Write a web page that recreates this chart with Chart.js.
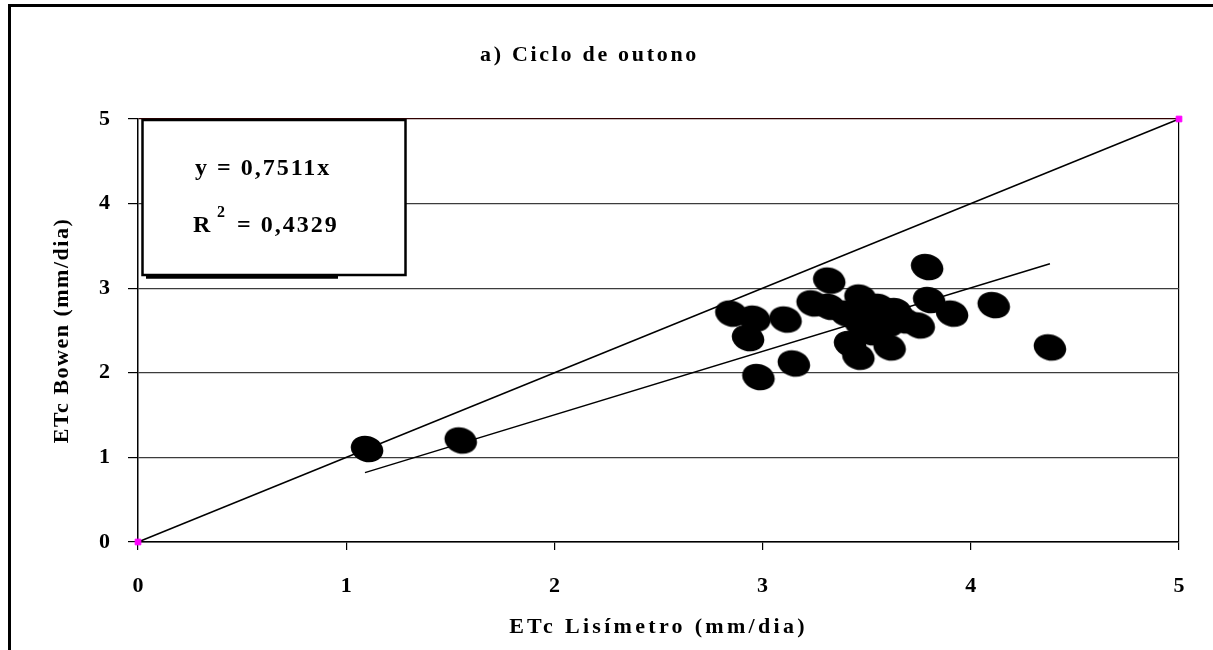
<!DOCTYPE html>
<html>
<head>
<meta charset="utf-8">
<script src="https://cdn.jsdelivr.net/npm/chart.js@4.4.1/dist/chart.umd.min.js"></script>
<style>
  html, body { margin: 0; padding: 0; background: #fff; }
  #wrap { width: 1213px; height: 650px; position: relative; }
</style>
</head>
<body>
<div id="wrap"><canvas id="chart"></canvas></div>
<script>
// data
const lisimetro = [1.10, 1.55, 2.85, 2.96, 2.93, 2.98, 3.11, 3.15, 3.24, 3.32, 3.32, 3.40, 3.47, 3.42, 3.46,
  3.47, 3.53, 3.56, 3.60, 3.52, 3.61, 3.64, 3.68, 3.75, 3.79, 3.80, 3.91, 4.11, 4.38];
const bowen = [1.10, 1.20, 2.70, 2.64, 2.41, 1.95, 2.63, 2.11, 2.82, 3.09, 2.78, 2.70, 2.89, 2.34, 2.19,
  2.58, 2.66, 2.78, 2.58, 2.48, 2.30, 2.73, 2.62, 2.56, 3.25, 2.86, 2.70, 2.80, 2.30];

// 1:1 line and fitted line (y = 0,7511x)
const oneToOneX = [0, 5];
const oneToOneY = [0, 5];
const trendX = [1.09, 4.38];
const trendY = [0.82, 3.29];

const ticks = [0, 1, 2, 3, 4, 5];
const eqText = 'y = 0,7511x';
const r2Text = '= 0,4329';

const serif = 'Liberation Serif';
let chartRef = null;

// spread letters like the original (each text gets its own spacing)
function spacing(px) {
  if (chartRef) chartRef.ctx.letterSpacing = px;
}

// ellipse marker like the original spreadsheet
function makeEllipse() {
  const c = document.createElement('canvas');
  c.width = 38; c.height = 34;
  const g = c.getContext('2d');
  g.fillStyle = '#000';
  g.beginPath();
  g.ellipse(19, 17, 16.5, 13, 0.28, 0, Math.PI * 2);
  g.fill();
  return c;
}
const blob = makeEllipse();

const toPts = (xs, ys) => xs.map((x, i) => ({ x: x, y: ys[i] }));

// frame and equation box
const decor = {
  id: 'decor',
  afterDraw(chart) {
    const ctx = chart.ctx;
    const a = chart.chartArea;
    ctx.save();
    ctx.letterSpacing = '0px';
    ctx.strokeStyle = '#000';
    // outer frame (top and left)
    ctx.lineWidth = 3;
    ctx.beginPath();
    ctx.moveTo(9.5, 650);
    ctx.lineTo(9.5, 5.5);
    ctx.lineTo(1213, 5.5);
    ctx.stroke();

    // equation box
    const bx = a.left + 4.5, by = a.top + 1;
    ctx.fillStyle = '#fff';
    ctx.fillRect(bx, by, 263, 155);
    ctx.lineWidth = 2.5;
    ctx.strokeRect(bx, by, 263, 155);
    ctx.lineWidth = 3.5;
    ctx.beginPath();
    ctx.moveTo(a.left + 8, a.top + 158);
    ctx.lineTo(a.left + 200, a.top + 158);
    ctx.stroke();

    ctx.fillStyle = '#000';
    ctx.textBaseline = 'alphabetic';
    ctx.textAlign = 'left';
    ctx.font = 'bold 24px "' + serif + '"';
    ctx.letterSpacing = '2px';
    ctx.fillText(eqText, a.left + 57, a.top + 56);
    ctx.fillText('R', a.left + 55, a.top + 113);
    ctx.fillText(r2Text, a.left + 99, a.top + 113);
    ctx.font = 'bold 16px "' + serif + '"';
    ctx.fillText('2', a.left + 79, a.top + 98);
    ctx.restore();
  }
};

chartRef = new Chart(document.getElementById('chart'), {
  type: 'scatter',
  data: {
    datasets: [
      {
        label: 'ETc',
        data: toPts(lisimetro, bowen),
        pointStyle: blob,
        pointRadius: 16,
        order: 3
      },
      {
        label: '1:1',
        data: toPts(oneToOneX, oneToOneY),
        showLine: true,
        clip: 8,
        borderColor: '#000',
        borderWidth: 1.5,
        pointStyle: 'rect',
        pointRadius: 4,
        pointBackgroundColor: '#ff00ff',
        pointBorderColor: '#ff00ff',
        pointBorderWidth: 1,
        order: 1
      },
      {
        label: 'Linear',
        data: toPts(trendX, trendY),
        showLine: true,
        borderColor: '#000',
        borderWidth: 1.5,
        pointRadius: 0,
        order: 2
      }
    ]
  },
  options: {
    responsive: true,
    maintainAspectRatio: false,
    animation: false,
    layout: { padding: { left: 0, right: 34, top: 0, bottom: 0 } },
    plugins: {
      legend: { display: false },
      tooltip: { enabled: false },
      title: {
        display: true,
        text: 'a) Ciclo de outono',
        color: () => { spacing('2.7px'); return '#000'; },
        font: { family: serif, size: 22, weight: 'bold', lineHeight: 1.2 },
        padding: { top: 42, bottom: 50.6 }
      }
    },
    scales: {
      x: {
        type: 'linear',
        min: 0,
        max: 5,
        afterBuildTicks: (s) => { s.ticks = ticks.map(v => ({ value: v })); },
        afterFit: (s) => { s.height = 108; },
        ticks: {
          color: () => { spacing('0px'); return '#000'; },
          padding: 23,
          font: { family: serif, size: 22, weight: 'bold' }
        },
        grid: {
          z: -2,
          drawOnChartArea: true,
          color: (c) => {
            spacing('3.3px');
            return c.tick && c.tick.value === 5 ? '#000' : 'rgba(0,0,0,0)';
          },
          tickColor: '#000',
          tickLength: 8,
          lineWidth: 1.2
        },
        border: { color: '#000', width: 1.5 },
        title: {
          display: true,
          text: 'ETc Lisímetro (mm/dia)',
          color: '#000',
          font: { family: serif, size: 22, weight: 'bold', lineHeight: 1.2 },
          padding: { top: 0, bottom: 9 }
        }
      },
      y: {
        type: 'linear',
        min: 0,
        max: 5,
        afterBuildTicks: (s) => { s.ticks = ticks.map(v => ({ value: v })); },
        afterFit: (s) => { s.width = 138; },
        ticks: {
          color: () => { spacing('0px'); return '#000'; },
          padding: 18,
          font: { family: serif, size: 22, weight: 'bold' }
        },
        grid: {
          color: (c) => {
            spacing('1.5px');
            return c.tick && c.tick.value === 5 ? '#300000' : '#3c3c3c';
          },
          tickColor: '#000',
          tickLength: 10,
          lineWidth: 1.2
        },
        border: { color: '#000', width: 1.5 },
        title: {
          display: true,
          text: 'ETc Bowen (mm/dia)',
          color: '#000',
          font: { family: serif, size: 22, weight: 'bold', lineHeight: 1.2 },
          padding: { top: 49, bottom: 0 }
        }
      }
    }
  },
  plugins: [decor]
});
// redraw once the chart reference exists so the spacing callbacks can reach the canvas
chartRef.update('none');
</script>
</body>
</html>
